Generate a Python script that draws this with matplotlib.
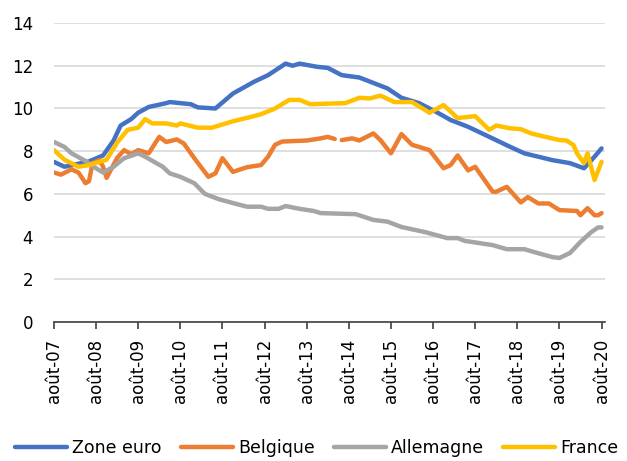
import numpy as np
import matplotlib
matplotlib.use("Agg")
import matplotlib.pyplot as plt

# Months counted from August 2007 (0 = août-07, 156 = août-20)
tick_labels = ["août-07", "août-08", "août-09", "août-10", "août-11", "août-12", "août-13",
               "août-14", "août-15", "août-16", "août-17", "août-18", "août-19", "août-20"]

# Zone euro
ze_month = [0, 3, 10, 14, 17, 19, 22, 24, 27, 32, 33, 39, 41, 46, 51, 57, 61, 66, 68, 70,
            75, 78, 82, 87, 95, 99, 104, 109, 113, 118, 123, 130, 134, 142, 147, 151, 154, 156]
ze_value = [7.5, 7.27, 7.52, 7.8, 8.5, 9.2, 9.5, 9.8, 10.07, 10.25, 10.3, 10.2, 10.05, 10.0,
            10.7, 11.25, 11.56, 12.1, 12.0, 12.1, 11.95, 11.9, 11.56, 11.45, 10.94, 10.5,
            10.25, 9.83, 9.46, 9.14, 8.75, 8.2, 7.9, 7.58, 7.44, 7.2, 7.74, 8.13]

# Belgique (nan = missing month)
be_month = [0, 2, 5, 7, 9, 10, 11, 13, 14, 15, 18, 20, 22, 24, 27, 30, 32, 35, 37, 40, 44,
            46, 48, 51, 55, 59, 61, 63, 65, 72, 76, 78, 80, 81, 82, 85, 87, 91, 93, 96, 99,
            102, 104, 107, 111, 113, 115, 118, 120, 125, 126, 129, 133, 135, 138, 141, 144,
            149, 150, 152, 154, 155, 156]
be_value = [7.0, 6.9, 7.15, 7.0, 6.5, 6.6, 7.44, 7.58, 7.27, 6.75, 7.68, 8.05, 7.86, 8.05,
            7.9, 8.67, 8.43, 8.55, 8.36, 7.67, 6.8, 6.96, 7.67, 7.03, 7.25, 7.35, 7.74, 8.3,
            8.45, 8.5, 8.6, 8.67, 8.57, np.nan, 8.52, 8.6, 8.5, 8.83, 8.52, 7.9, 8.8, 8.3,
            8.2, 8.05, 7.2, 7.35, 7.8, 7.1, 7.27, 6.1, 6.1, 6.33, 5.6, 5.85, 5.55, 5.55, 5.24,
            5.2, 5.0, 5.33, 5.0, 5.0, 5.1]

# Allemagne
de_month = [0, 3, 5, 9, 12, 14, 17, 20, 24, 26, 31, 33, 36, 40, 43, 47, 51, 55, 59, 61, 64,
            66, 70, 74, 76, 86, 91, 95, 99, 106, 112, 115, 117, 121, 125, 129, 134, 138, 142,
            144, 147, 150, 153, 155, 156]
de_value = [8.43, 8.2, 7.9, 7.54, 7.2, 7.0, 7.27, 7.67, 7.9, 7.74, 7.27, 6.96, 6.8, 6.5, 6.0,
            5.75, 5.57, 5.4, 5.4, 5.3, 5.3, 5.43, 5.3, 5.2, 5.1, 5.05, 4.78, 4.7, 4.45, 4.2,
            3.93, 3.93, 3.8, 3.7, 3.6, 3.41, 3.41, 3.22, 3.04, 3.0, 3.23, 3.75, 4.2, 4.43, 4.43]

# France
fr_month = [0, 3, 7, 10, 13, 15, 18, 21, 24, 26, 28, 32, 35, 36, 41, 45, 47, 51, 56, 59, 63,
            67, 70, 73, 83, 87, 90, 93, 97, 102, 107, 111, 115, 120, 124, 126, 130, 133, 136,
            140, 144, 146, 148, 149, 151, 152, 154, 156]
fr_value = [8.05, 7.6, 7.27, 7.35, 7.5, 7.6, 8.4, 9.0, 9.1, 9.5, 9.3, 9.3, 9.2, 9.3, 9.1, 9.1,
            9.2, 9.4, 9.6, 9.73, 10.0, 10.4, 10.4, 10.2, 10.25, 10.5, 10.47, 10.6, 10.3, 10.3,
            9.8, 10.16, 9.55, 9.64, 9.0, 9.2, 9.07, 9.03, 8.83, 8.67, 8.52, 8.5, 8.29, 7.9,
            7.44, 7.9, 6.65, 7.5]

fig = plt.figure(figsize=(6.27, 4.61), dpi=100)
ax = fig.add_axes([0.086, 0.3015, 0.879, 0.6485])

lw = 3.2
ax.plot(ze_month, ze_value, color="#4472C4", lw=lw, label="Zone euro", solid_capstyle="round")
ax.plot(be_month, be_value, color="#ED7D31", lw=lw, label="Belgique", solid_capstyle="round")
ax.plot(de_month, de_value, color="#A5A5A5", lw=lw, label="Allemagne", solid_capstyle="round")
ax.plot(fr_month, fr_value, color="#FFC000", lw=lw, label="France", solid_capstyle="round")

# Axes, grid, ticks
ax.set_xlim(0, 157)
ax.set_ylim(0, 14)
ax.set_yticks(range(0, 15, 2))
ax.set_xticks(range(0, 157, 12))
ax.set_xticklabels(tick_labels, rotation=90)
ax.grid(axis="y", color="#D9D9D9", lw=1.2)
ax.set_axisbelow(True)
for side in ["left", "right", "top"]:
    ax.spines[side].set_visible(False)
ax.spines["bottom"].set_color("#404040")
ax.spines["bottom"].set_linewidth(1.2)
ax.tick_params(axis="y", length=0, labelsize=12, pad=15)
ax.tick_params(axis="x", direction="out", length=5, width=1.2, color="#404040",
               labelsize=12, pad=7)

# Legend along the bottom
fig.legend(loc="lower center", bbox_to_anchor=(0.505, -0.025), ncol=4, frameon=False,
           fontsize=12.5, handlelength=3.0, handletextpad=0.3, columnspacing=1.1)

fig.savefig("out.png", dpi=100)
